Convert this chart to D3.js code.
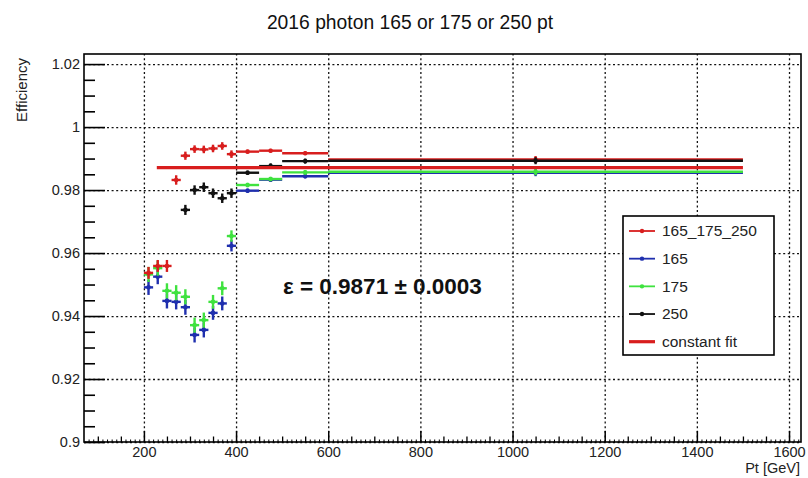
<!DOCTYPE html>
<html>
<head>
<meta charset="utf-8">
<script src="https://cdn.jsdelivr.net/npm/d3@7"></script>
<style>
  body { margin: 0; background: #fff; }
  svg { font-family: "Liberation Sans", Arial, Helvetica, sans-serif; }
</style>
</head>
<body>
<div id="chart"></div>
<script>

// bin centres and half widths (Pt, GeV)
var ptCenter = [210, 230, 250, 270, 290, 310, 330, 350, 370, 390, 425, 475, 550, 1050]
var ptHalf   = [10, 10, 10, 10, 10, 10, 10, 10, 10, 10, 25, 25, 50, 450]

// efficiencies
var eff165_175_250 = [0.9537, 0.9559, 0.9559, 0.9832, 0.9909, 0.9930, 0.9929, 0.9932, 0.9940, 0.9914, 0.9922, 0.9925, 0.9917, 0.9897]
var err165_175_250 = [0.0019, 0.0019, 0.0019, 0.0015, 0.0013, 0.0012, 0.0012, 0.0012, 0.0012, 0.0012, 0.0006, 0.0006, 0.0006, 0.0011]

var eff165 = [0.9491, 0.9525, 0.9448, 0.9445, 0.9428, 0.9340, 0.9356, 0.9410, 0.9440, 0.9623, 0.9798, 0.9833, 0.9844, 0.9855]
var err165 = [0.0024, 0.0024, 0.0024, 0.0024, 0.0024, 0.0024, 0.0024, 0.0022, 0.0022, 0.0018, 0.0007, 0.0007, 0.0007, 0.0011]

var eff175 = [0.9532, 0.9552, 0.9480, 0.9474, 0.9461, 0.9371, 0.9387, 0.9445, 0.9488, 0.9654, 0.9816, 0.9835, 0.9856, 0.9858]
var err175 = [0.0024, 0.0024, 0.0024, 0.0024, 0.0024, 0.0024, 0.0024, 0.0022, 0.0022, 0.0018, 0.0007, 0.0007, 0.0007, 0.0011]

var eff250 = [null, null, null, null, 0.9737, 0.9800, 0.9809, 0.9790, 0.9774, 0.9790, 0.9855, 0.9876, 0.9892, 0.9893]
var err250 = [null, null, null, null, 0.0016, 0.0015, 0.0015, 0.0015, 0.0015, 0.0015, 0.0007, 0.0009, 0.0008, 0.0011]

// constant fit
var fitValue = 0.9871
var fitRange = [228, 1500]

var xTicks = [200, 400, 600, 800, 1000, 1200, 1400, 1600]
var yTicks = [0.9, 0.92, 0.94, 0.96, 0.98, 1.0, 1.02]
var legendLabels = ["165_175_250", "165", "175", "250", "constant fit"]

var w = 808, h = 478
var pLeft = 84, pRight = 801, pTop = 54, pBottom = 442

var svg = d3.select("#chart").append("svg")
  .attr("width", w)
  .attr("height", h)

var x = d3.scaleLinear().domain([70, 1626]).range([pLeft, pRight])
var y = d3.scaleLinear().domain([0.9, 1.0232]).range([pBottom, pTop])

// grid
svg.append("g")
  .attr("transform", "translate(0," + pBottom + ")")
  .call(d3.axisBottom(x).tickValues(xTicks).tickSizeInner(-(pBottom - pTop)).tickSizeOuter(0).tickFormat(""))
  .call(g => g.select(".domain").remove())
  .selectAll("line").attr("stroke", "#111").attr("stroke-width", 1.3).attr("stroke-dasharray", "2,2.6")

svg.append("g")
  .attr("transform", "translate(" + pLeft + ",0)")
  .call(d3.axisLeft(y).tickValues(yTicks).tickSizeInner(-(pRight - pLeft)).tickSizeOuter(0).tickFormat(""))
  .call(g => g.select(".domain").remove())
  .selectAll("line").attr("stroke", "#111").attr("stroke-width", 1.3).attr("stroke-dasharray", "2,2.6")

// x axis ticks
var xMinor = d3.range(100, 1601, 50).filter(v => v % 200 != 0)
var xTiny = d3.range(80, 1621, 10).filter(v => v % 50 != 0)

svg.append("g")
  .attr("transform", "translate(0," + pBottom + ")")
  .call(d3.axisBottom(x).tickValues(xTiny).tickSizeInner(-2.5).tickSizeOuter(0).tickFormat(""))
  .call(g => g.select(".domain").remove())
  .selectAll("line").attr("stroke", "#000").attr("stroke-width", 1)

svg.append("g")
  .attr("transform", "translate(0," + pBottom + ")")
  .call(d3.axisBottom(x).tickValues(xMinor).tickSizeInner(-5.5).tickSizeOuter(0).tickFormat(""))
  .call(g => g.select(".domain").remove())
  .selectAll("line").attr("stroke", "#000").attr("stroke-width", 1.3)

var xAxis = svg.append("g")
  .attr("transform", "translate(0," + pBottom + ")")
  .call(d3.axisBottom(x).tickValues(xTicks).tickSizeInner(-11).tickSizeOuter(0).tickPadding(5)
    .tickFormat(d3.format("d")))
xAxis.select(".domain").remove()
xAxis.selectAll("line").attr("stroke", "#000").attr("stroke-width", 1.5)
xAxis.selectAll("text").attr("font-size", "14.5px").attr("fill", "#222").attr("font-family", "Liberation Sans, Arial, sans-serif")

// y axis ticks
var yMinor = d3.range(0, 25).map(i => 0.9 + i * 0.005).filter(v => Math.round(v * 1000) % 20 != 0)

svg.append("g")
  .attr("transform", "translate(" + pLeft + ",0)")
  .call(d3.axisLeft(y).tickValues(yMinor).tickSizeInner(-11).tickSizeOuter(0).tickFormat(""))
  .call(g => g.select(".domain").remove())
  .selectAll("line").attr("stroke", "#000").attr("stroke-width", 1.6)

var yAxis = svg.append("g")
  .attr("transform", "translate(" + pLeft + ",0)")
  .call(d3.axisLeft(y).tickValues(yTicks).tickSizeInner(-21).tickSizeOuter(0).tickPadding(4)
    .tickFormat(d => String(+d.toFixed(2))))
yAxis.select(".domain").remove()
yAxis.selectAll("line").attr("stroke", "#000").attr("stroke-width", 1.6)
yAxis.selectAll("text").attr("font-size", "14.5px").attr("fill", "#222").attr("font-family", "Liberation Sans, Arial, sans-serif")

// frame
svg.append("rect")
  .attr("x", pLeft).attr("y", pTop)
  .attr("width", pRight - pLeft).attr("height", pBottom - pTop)
  .attr("fill", "none").attr("stroke", "#000").attr("stroke-width", 1.6)

// data series
var series = [
  { name: "165", values: eff165, errors: err165, color: "#1f2fae" },
  { name: "175", values: eff175, errors: err175, color: "#3fe23f" },
  { name: "165_175_250", values: eff165_175_250, errors: err165_175_250, color: "#d81e1e" },
  { name: "250", values: eff250, errors: err250, color: "#111111" }
]

function drawSeries(s) {
  var pts = ptCenter.map((c, i) => ({ c: c, hw: ptHalf[i], v: s.values[i], e: s.errors[i] }))
    .filter(d => d.v != null)
  var g = svg.append("g").attr("class", "series")
  g.selectAll(".hbar").data(pts).enter().append("line")
    .attr("x1", d => x(d.c - d.hw)).attr("x2", d => x(d.c + d.hw))
    .attr("y1", d => y(d.v)).attr("y2", d => y(d.v))
    .attr("stroke", s.color).attr("stroke-width", 2.4)
  g.selectAll(".vbar").data(pts).enter().append("line")
    .attr("x1", d => x(d.c)).attr("x2", d => x(d.c))
    .attr("y1", d => y(d.v - d.e)).attr("y2", d => y(d.v + d.e))
    .attr("stroke", s.color).attr("stroke-width", 2.4)
  g.selectAll("circle").data(pts).enter().append("circle")
    .attr("cx", d => x(d.c)).attr("cy", d => y(d.v)).attr("r", 2.3)
    .attr("fill", s.color)
}

series.forEach(drawSeries)

// constant fit
svg.append("line")
  .attr("x1", x(fitRange[0])).attr("x2", x(fitRange[1]))
  .attr("y1", y(fitValue)).attr("y2", y(fitValue))
  .attr("stroke", "#d81e1e").attr("stroke-width", 3.2)

// fit result text
svg.append("text")
  .attr("x", 283).attr("y", 294)
  .attr("font-size", "22.5px").attr("font-weight", "bold").attr("fill", "#111")
  .text("ε = 0.9871 ± 0.0003")

// title
svg.append("text")
  .attr("x", 410).attr("y", 29)
  .attr("text-anchor", "middle")
  .attr("font-size", "19.3px").attr("fill", "#111")
  .text("2016 photon 165 or 175 or 250 pt")

// axis titles
svg.append("text")
  .attr("transform", "translate(27,58) rotate(-90)")
  .attr("text-anchor", "end")
  .attr("font-size", "15px").attr("fill", "#222")
  .text("Efficiency")

svg.append("text")
  .attr("x", 800).attr("y", 473)
  .attr("text-anchor", "end")
  .attr("font-size", "14.5px").attr("fill", "#222")
  .text("Pt [GeV]")

// legend
var legend = svg.append("g").attr("transform", "translate(623,216)")
legend.append("rect")
  .attr("width", 151).attr("height", 139)
  .attr("fill", "#fff").attr("stroke", "#000").attr("stroke-width", 1.6)

var legendColors = ["#d81e1e", "#1f2fae", "#3fe23f", "#111111", "#d81e1e"]
var ly = d3.scalePoint().domain(legendLabels).range([15, 125.7])

legendLabels.forEach(function (lab, i) {
  var row = legend.append("g").attr("transform", "translate(0," + ly(lab) + ")")
  var fit = i == 4
  row.append("line")
    .attr("x1", 6).attr("x2", 32)
    .attr("stroke", legendColors[i]).attr("stroke-width", fit ? 3.2 : 1.8)
  if (!fit) {
    row.append("circle").attr("cx", 19).attr("r", 2.2).attr("fill", legendColors[i])
  }
  row.append("text")
    .attr("x", 39).attr("dy", "0.35em")
    .attr("font-size", "15.5px").attr("fill", "#222")
    .text(lab)
})

</script>
</body>
</html>
